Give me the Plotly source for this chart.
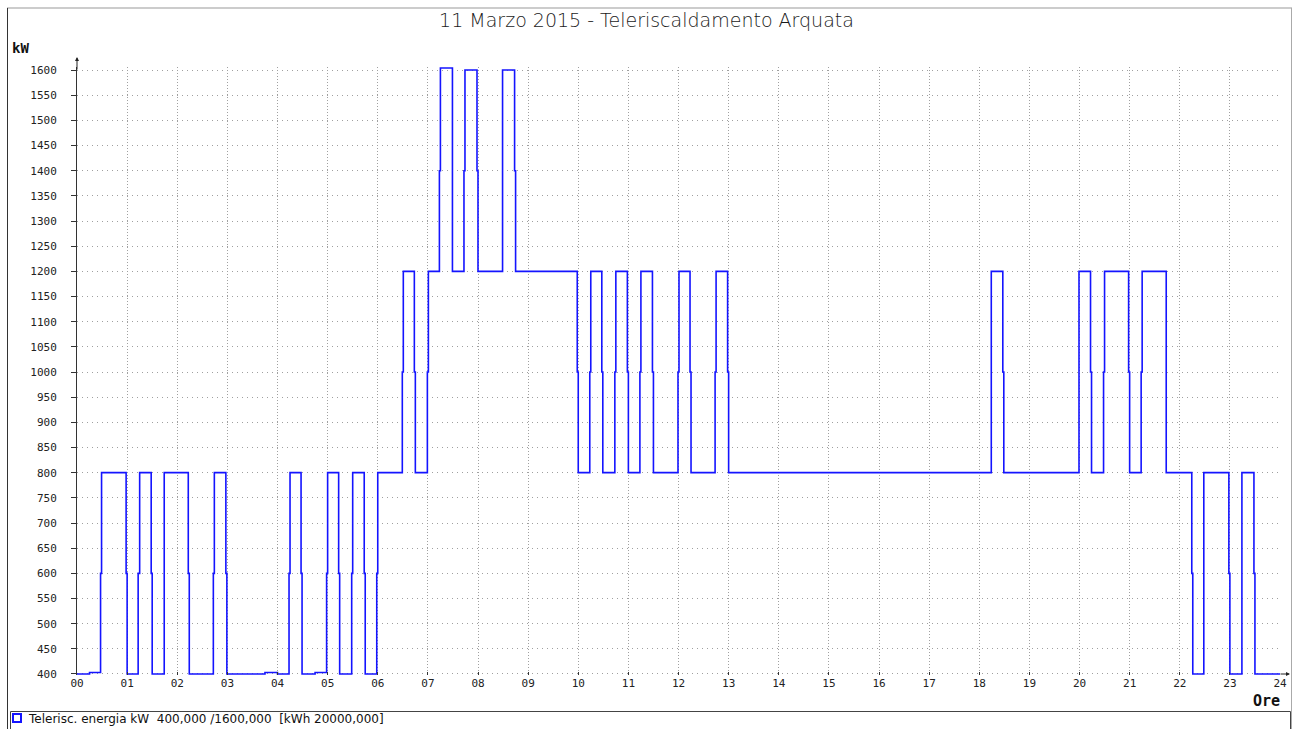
import plotly.graph_objects as go

# ---- data (hours since midnight, kW) : step change points ----
hours = [0.00, 0.25, 0.47, 0.49, 0.98, 1.00, 1.22, 1.25, 1.48, 1.50,
         1.74, 2.22, 2.24, 2.72, 2.74, 2.97, 2.99, 3.75, 4.00, 4.23,
         4.25, 4.47, 4.49, 4.75, 4.98, 5.00, 5.22, 5.24, 5.48, 5.50,
         5.73, 5.75, 5.98, 6.00, 6.49, 6.51, 6.73, 6.75, 6.99, 7.01,
         7.23, 7.25, 7.49, 7.72, 7.74, 7.98, 8.00, 8.49, 8.73, 8.75,
         9.98, 10.00, 10.23, 10.25, 10.47, 10.49, 10.73, 10.75, 10.98, 11.00,
         11.23, 11.25, 11.48, 11.50, 11.99, 12.01, 12.23, 12.25, 12.73, 12.75,
         12.98, 13.00, 18.24, 18.47, 18.49, 19.99, 20.22, 20.24, 20.48, 20.50,
         20.98, 21.00, 21.23, 21.25, 21.73, 22.24, 22.26, 22.48, 22.98, 23.00,
         23.24, 23.48, 23.50, 24.00]
kw = [400, 403, 600, 800, 600, 400, 600, 800, 600, 400,
      800, 600, 400, 600, 800, 600, 400, 403, 400, 600,
      800, 600, 400, 403, 600, 800, 600, 400, 600, 800,
      600, 400, 600, 800, 1000, 1200, 1000, 800, 1000, 1200,
      1400, 1604, 1200, 1400, 1600, 1400, 1200, 1600, 1400, 1200,
      1000, 800, 1000, 1200, 1000, 800, 1000, 1200, 1000, 800,
      1000, 1200, 1000, 800, 1000, 1200, 1000, 800, 1000, 1200,
      1000, 800, 1200, 1000, 800, 1200, 1000, 800, 1000, 1200,
      1000, 800, 1000, 1200, 800, 600, 400, 800, 600, 400,
      800, 600, 400, 400]

hour_ticks = [0, 1, 2, 3, 4, 5, 6, 7, 8, 9, 10, 11, 12, 13, 14, 15, 16, 17,
              18, 19, 20, 21, 22, 23, 24]
hour_labels = ["00", "01", "02", "03", "04", "05", "06", "07", "08", "09",
               "10", "11", "12", "13", "14", "15", "16", "17", "18", "19",
               "20", "21", "22", "23", "24"]
kw_ticks = [400, 450, 500, 550, 600, 650, 700, 750, 800, 850, 900, 950, 1000,
            1050, 1100, 1150, 1200, 1250, 1300, 1350, 1400, 1450, 1500, 1550, 1600]

title_text = "11 Marzo 2015 - Teleriscaldamento Arquata"
series_name = "Telerisc. energia kW"
legend_info = "400,000 /1600,000  [kWh 20000,000]"
y_unit = "kW"
x_unit = "Ore"

W, H = 1293, 729
# plot area: x 77..1280 for 0..24 h ; y 674..70 for 400..1600 kW (padded range)
L, R = 77, 13
Y_LO, Y_HI = 398, 1606
T, B = 67, 54
PW, PH = W - L - R, H - T - B


def px(xp):
    return (xp - L) / PW


def py(yp):
    return (H - B - yp) / PH


fig = go.Figure()
fig.add_trace(go.Scatter(
    x=hours, y=kw, mode="lines", line=dict(color="#1414ff", width=1.6, shape="hv"),
    name=series_name, showlegend=False, hoverinfo="x+y"))

mono = "DejaVu Sans Mono"
fig.update_layout(
    width=W, height=H, autosize=False, showlegend=False,
    margin=dict(l=L, r=R, t=T, b=B, pad=0, autoexpand=False),
    paper_bgcolor="white", plot_bgcolor="white",
    title=dict(text=title_text, x=0.5, xref="container", xanchor="center",
               y=1 - 20 / H, yref="container", yanchor="middle", automargin=False,
               font=dict(family="DejaVu Sans", size=19, weight=300, color="#1a1a1a")),
    xaxis=dict(range=[0, 24], tickvals=hour_ticks, ticktext=hour_labels,
               automargin=False,
               showgrid=True, gridcolor="#a0a0a0", gridwidth=1, griddash="1px,2px",
               showline=False, zeroline=False, ticks="inside", ticklen=3,
               tickcolor="#333333", tickfont=dict(family=mono, size=11, color="#222222")),
    yaxis=dict(range=[Y_LO, Y_HI], tickvals=kw_ticks,
               automargin=False,
               showgrid=True, gridcolor="#a0a0a0", gridwidth=1, griddash="1px,4px",
               showline=True, linecolor="#333333", linewidth=1, zeroline=False,
               ticks="outside", ticklen=5, tickcolor="#333333",
               ticklabelstandoff=12,
               tickfont=dict(family=mono, size=11, color="#222222")),
)

# axis arrows
fig.add_annotation(x=0, y=py(57), xref="paper", yref="paper", ax=0, ay=14,
                   showarrow=True, arrowhead=2, arrowsize=0.8, arrowwidth=1,
                   arrowcolor="#222222", text="")
fig.add_annotation(x=px(1290), y=py(674), xref="paper", yref="paper", ax=-11, ay=0,
                   showarrow=True, arrowhead=2, arrowsize=0.8, arrowwidth=1,
                   arrowcolor="#222222", text="")

# unit labels
fig.add_annotation(x=px(10), y=py(48), xref="paper", yref="paper", text="<b>" + y_unit + "</b>",
                   showarrow=False, xanchor="left", yanchor="middle",
                   font=dict(family=mono, size=14, color="#111111"))
fig.add_annotation(x=px(1282), y=py(701), xref="paper", yref="paper", text="<b>" + x_unit + "</b>",
                   showarrow=False, xanchor="right", yanchor="middle",
                   font=dict(family=mono, size=15, color="#111111"))

# frame lines
fig.add_shape(type="line", xref="paper", yref="paper", x0=px(7), x1=px(1292), y0=py(8), y1=py(8),
              line=dict(color="#999999", width=1))
fig.add_shape(type="line", xref="paper", yref="paper", x0=px(7.5), x1=px(7.5), y0=py(8), y1=py(729),
              line=dict(color="#333333", width=1))
fig.add_shape(type="line", xref="paper", yref="paper", x0=px(1291.5), x1=px(1291.5), y0=py(8), y1=py(729),
              line=dict(color="#aaaaaa", width=1))
# legend box
fig.add_shape(type="rect", xref="paper", yref="paper", x0=px(10.5), x1=px(1290.5), y0=py(711.5), y1=py(735),
              line=dict(color="#444444", width=1), fillcolor="rgba(0,0,0,0)")
fig.add_shape(type="rect", xref="paper", yref="paper", x0=px(13), x1=px(21), y0=py(714), y1=py(722),
              line=dict(color="#1414ff", width=2), fillcolor="white")
fig.add_annotation(x=px(26), y=py(719), xref="paper", yref="paper",
                   text=series_name + "&nbsp;&nbsp;" + legend_info,
                   showarrow=False, xanchor="left", yanchor="middle",
                   font=dict(family="DejaVu Sans", size=12, color="#111111"))

fig.write_html("out.html", config={"displayModeBar": False, "responsive": False},
               post_script="document.body.style.margin='0';")
